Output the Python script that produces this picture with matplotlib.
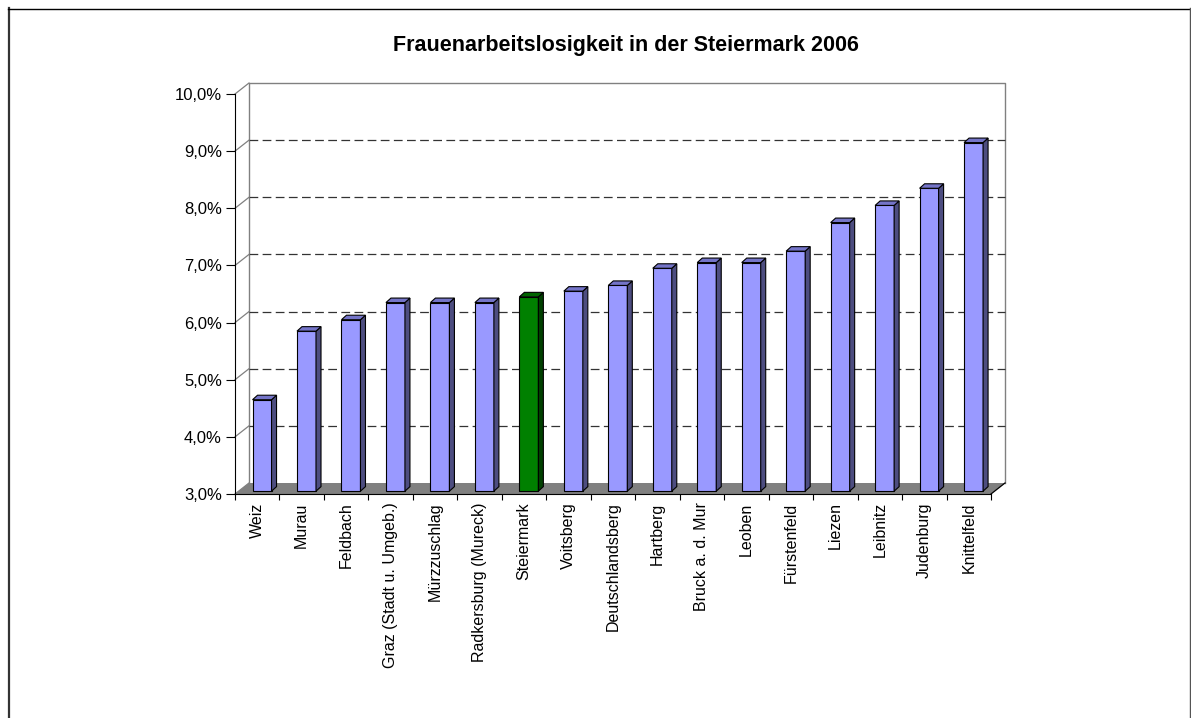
import numpy as np
import matplotlib
matplotlib.use("Agg")
import matplotlib.pyplot as plt
from matplotlib.patches import Polygon
from matplotlib.lines import Line2D

plt.rcParams["font.family"] = ["Liberation Sans", "DejaVu Sans"]

# Daten
bezirke = ["Weiz", "Murau", "Feldbach", "Graz (Stadt u. Umgeb.)", "Mürzzuschlag",
           "Radkersburg (Mureck)", "Steiermark", "Voitsberg", "Deutschlandsberg",
           "Hartberg", "Bruck a. d. Mur", "Leoben", "Fürstenfeld", "Liezen",
           "Leibnitz", "Judenburg", "Knittelfeld"]
quote = [4.6, 5.8, 6.0, 6.3, 6.3, 6.3, 6.4, 6.5, 6.6, 6.9, 7.0, 7.0, 7.2, 7.7,
         8.0, 8.3, 9.1]
y_ticks = [3, 4, 5, 6, 7, 8, 9, 10]
highlight = "Steiermark"

W, H = 1191, 718
fig = plt.figure(figsize=(W / 100, H / 100), dpi=100)
ax = fig.add_axes([235 / W, 1 - 494 / H, (991 - 235) / W, 400 / H])

n = len(bezirke)
x = np.arange(n)
y0, y1 = y_ticks[0], y_ticks[-1]
ax.set_xlim(-0.5, n - 0.5)
ax.set_ylim(y0, y1)

# Tiefenversatz (Rückwand und Säulen)
px_x = (991 - 235) / n
px_y = 400 / (y1 - y0)
wdx, wdy = 14 / px_x, 11 / px_y
bdx, bdy = 5 / px_x, 4.5 / px_y
bw = 19 / px_x
boff = 0.108
base = y0 + 0.05

grey = "#808080"
# Rückwand
xl, xr = -0.5 + wdx, n - 0.5 + wdx
ax.plot([xl, xl, xr, xr], [y0 + wdy, y1 + wdy, y1 + wdy, y0 + wdy],
        color=grey, lw=1, clip_on=False, zorder=1)
for t in y_ticks[1:-1]:
    ax.plot([xl, xr], [t + wdy, t + wdy], color="#333333", lw=0.9,
            linestyle=(0, (7, 3.5)), clip_on=False, zorder=1)
for t in y_ticks:
    ax.plot([-0.5, xl], [t, t + wdy], color=grey, lw=0.9, clip_on=False, zorder=1)

# Boden
ax.add_patch(Polygon([(-0.5, y0), (n - 0.5, y0), (xr, y0 + wdy), (xl, y0 + wdy)],
                     closed=True, facecolor=grey, edgecolor="none",
                     clip_on=False, zorder=1.5))
ax.plot([n - 0.5, xr], [y0, y0 + wdy], color="black", lw=0.9, clip_on=False, zorder=2)

# Säulen
for i, (name, v) in enumerate(zip(bezirke, quote)):
    if name == highlight:
        front, top, side = "#008000", "#006400", "#004000"
    else:
        front, top, side = "#9999FF", "#7474C8", "#4D4D80"
    left = x[i] + boff - bw / 2
    right = left + bw
    tv = v + 0.05
    ax.bar(x[i] + boff, tv - base, bottom=base, width=bw, color=front,
           edgecolor="black", linewidth=0.8, zorder=3, clip_on=False)
    ax.add_patch(Polygon([(right, base), (right + bdx, base + bdy),
                          (right + bdx, tv + bdy), (right, tv)], closed=True,
                         facecolor=side, edgecolor="black", lw=0.8, zorder=3,
                         clip_on=False))
    ax.add_patch(Polygon([(left, tv), (right, tv), (right + bdx, tv + bdy),
                          (left + bdx, tv + bdy)], closed=True,
                         facecolor=top, edgecolor="black", lw=0.8, zorder=3,
                         clip_on=False))

# Achsen
for s in ["top", "right"]:
    ax.spines[s].set_visible(False)
ax.spines["left"].set_color("black")
ax.spines["bottom"].set_color("black")
ax.spines["left"].set_zorder(4)
ax.spines["bottom"].set_zorder(4)

ax.set_yticks(y_ticks)
ax.set_yticklabels([f"{t:.1f}%".replace(".", ",") for t in y_ticks], fontsize=12)
ax.tick_params(axis="y", direction="out", length=6.5, width=0.8, pad=3)

ax.set_xticks(x)
ax.set_xticklabels(bezirke, rotation=90, fontsize=11.5, va="top")
ax.set_xticks(np.arange(n + 1) - 0.5, minor=True)
ax.tick_params(axis="x", which="major", length=0, pad=6)
ax.tick_params(axis="x", which="minor", direction="out", length=4.5, width=0.8)

fig.text(626 / W, 1 - 46 / H, "Frauenarbeitslosigkeit in der Steiermark 2006",
         ha="center", va="center", fontsize=15.5, fontweight="bold")

# Rahmen
fig.add_artist(Line2D([8.5 / W, 8.5 / W], [0, 1 - 8 / H], color="#333333", lw=1.6,
                      transform=fig.transFigure))
fig.add_artist(Line2D([8 / W, 1189.5 / W], [1 - 8.5 / H, 1 - 8.5 / H], color="black",
                      lw=1, transform=fig.transFigure))
fig.add_artist(Line2D([1189.5 / W, 1189.5 / W], [0, 1 - 8 / H], color="#555555", lw=1,
                      transform=fig.transFigure))

fig.savefig("out.png", dpi=100)
